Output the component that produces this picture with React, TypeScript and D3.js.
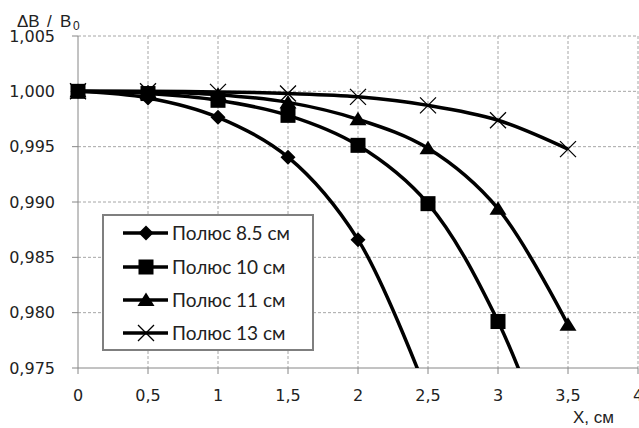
import React from "react";
import * as d3 from "d3";

const xValues = [0, 0.5, 1, 1.5, 2, 2.5, 3, 3.5];
const pole85 = [1.0, 0.9994, 0.99765, 0.99405, 0.9866, 0.9725];
const pole10 = [1.0, 0.9998, 0.99919, 0.99783, 0.99512, 0.98985, 0.9792, 0.963];
const pole11 = [1.0, 0.99995, 0.9997, 0.9990, 0.99747, 0.99485, 0.9894, 0.9789];
const pole13 = [1.0, 1.0, 0.99995, 0.9998, 0.9995, 0.99873, 0.99739, 0.99478];
const seriesNames = ["Полюс 8.5 см", "Полюс 10 см", "Полюс 11 см", "Полюс 13 см"];
const seriesMarkers = ["diamond", "square", "triangle", "cross"];
const xTicks = [0, 0.5, 1, 1.5, 2, 2.5, 3, 3.5, 4];
const yTicks = [0.975, 0.98, 0.985, 0.99, 0.995, 1.0, 1.005];

const W = 639;
const H = 428;
const left = 78;
const right = 638;
const top = 36;
const bottom = 368;

function Marker({ type, x, y }: { type: string; x: number; y: number }) {
  if (type === "diamond") {
    const s = 7.5;
    return <path d={`M${x},${y - s}L${x + s},${y}L${x},${y + s}L${x - s},${y}Z`} fill="#000" />;
  }
  if (type === "square") {
    const s = 7.5;
    return <rect x={x - s} y={y - s} width={2 * s} height={2 * s} fill="#000" />;
  }
  if (type === "triangle") {
    const s = 8.5;
    return <path d={`M${x},${y - 7.5}L${x + s},${y + 6}L${x - s},${y + 6}Z`} fill="#000" />;
  }
  const s = 8;
  return (
    <path d={`M${x - s},${y - s}L${x + s},${y + s}M${x + s},${y - s}L${x - s},${y + s}`} stroke="#000" strokeWidth={1.3} fill="none" />
  );
}

export default function App() {
  const x = d3.scaleLinear().domain([0, 4]).range([left, right]);
  const y = d3.scaleLinear().domain([0.975, 1.005]).range([bottom, top]);
  const allSeries = [pole85, pole10, pole11, pole13];
  const line = d3
    .line<[number, number]>()
    .x((d) => x(d[0]))
    .y((d) => y(d[1]))
    .curve(d3.curveCatmullRom.alpha(0.5));
  const fmt = (v: number) => v.toFixed(3).replace(".", ",");
  const fmtX = (v: number) => String(v).replace(".", ",");
  const font = "'DejaVu Sans', Verdana, sans-serif";
  const legendY = [233, 267, 300, 333];

  return (
    <svg width={W} height={H} style={{ position: "absolute", left: 0, top: 0, background: "#fff" }}>
      <defs>
        <clipPath id="plotclip">
          <rect x={left - 12} y={top - 12} width={right - left + 12} height={bottom - top + 12} />
        </clipPath>
      </defs>
      <rect x={0} y={0} width={W} height={H} fill="#fff" />
      {/* grid */}
      {yTicks.map((t) =>
        t === 0.975 ? null : (
          <line key={"gy" + t} x1={left} x2={right} y1={y(t)} y2={y(t)} stroke="#a6a6a6" strokeWidth={1} strokeDasharray="3,2" />
        )
      )}
      {xTicks.map((t) =>
        t === 0 ? null : (
          <line key={"gx" + t} x1={x(t)} x2={x(t)} y1={top} y2={bottom} stroke="#a6a6a6" strokeWidth={1} strokeDasharray="3,2" />
        )
      )}
      {/* axes */}
      <line x1={left} x2={left} y1={top} y2={bottom} stroke="#868686" strokeWidth={1} />
      <line x1={left} x2={right} y1={bottom} y2={bottom} stroke="#868686" strokeWidth={1} />
      {yTicks.map((t) => (
        <g key={"ty" + t}>
          <line x1={left - 6} x2={left} y1={y(t)} y2={y(t)} stroke="#868686" />
          <text x={55} y={y(t)} dy="0.36em" textAnchor="end" fontFamily={font} fontSize={16} fill="#222">
            {fmt(t)}
          </text>
        </g>
      ))}
      {xTicks.map((t) => (
        <g key={"tx" + t}>
          <line x1={x(t)} x2={x(t)} y1={bottom} y2={bottom + 6} stroke="#868686" />
          <text x={x(t)} y={401} textAnchor="middle" fontFamily={font} fontSize={16} fill="#222">
            {fmtX(t)}
          </text>
        </g>
      ))}
      {/* series */}
      <g clipPath="url(#plotclip)">
        {allSeries.map((vals, i) => {
          const pts: [number, number][] = vals.map((v, j) => [xValues[j], v]);
          return (
            <g key={"s" + i}>
              <path d={line(pts) || ""} fill="none" stroke="#000" strokeWidth={3.5} />
              {pts.map((p, j) =>
                y(p[1]) > bottom ? null : <Marker key={j} type={seriesMarkers[i]} x={x(p[0])} y={y(p[1])} />
              )}
            </g>
          );
        })}
      </g>
      {/* legend */}
      <rect x={103} y={215} width={210} height={135} fill="#fff" stroke="#7f7f7f" strokeWidth={2} />
      {seriesNames.map((n, i) => (
        <g key={"l" + i}>
          <line x1={123} x2={168} y1={legendY[i]} y2={legendY[i]} stroke="#000" strokeWidth={3.5} />
          <Marker type={seriesMarkers[i]} x={146} y={legendY[i]} />
          <text x={172} y={legendY[i]} dy="0.36em" fontFamily="Lato, sans-serif" fontSize={19} fill="#222">
            {n}
          </text>
        </g>
      ))}
      {/* axis titles */}
      <text y={27} fontFamily="'Liberation Sans', Arial, sans-serif" fontSize={17} fill="#222">
        <tspan x={17}>ΔB</tspan>
        <tspan x={47}>/</tspan>
        <tspan x={60}>B</tspan>
      </text>
      <text x={73} y={30} fontFamily="'Liberation Sans', Arial, sans-serif" fontSize={12} fill="#222">
        0
      </text>
      <text x={573} y={423} fontFamily="'Liberation Sans', Arial, sans-serif" fontSize={17} fill="#222">
        X, см
      </text>
    </svg>
  );
}
